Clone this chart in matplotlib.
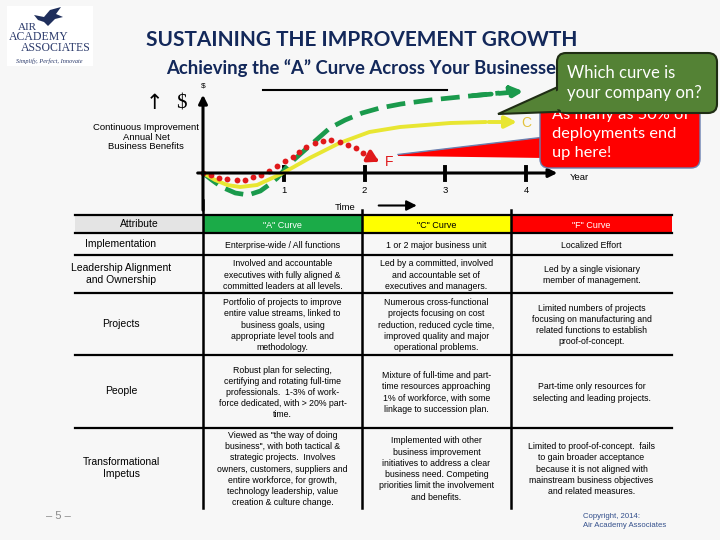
import matplotlib.pyplot as plt
from matplotlib.patches import FancyBboxPatch, Polygon, Rectangle

plt.rcParams['font.family'] = ['Liberation Sans', 'DejaVu Sans']

# curve values (year, annual net benefit)
a_years = [0, 0.11, 0.23, 0.40, 0.56, 0.71, 0.83, 0.92, 1.08, 1.36, 1.57, 1.76, 1.97, 2.19, 2.45, 2.81, 3.30, 3.67, 4.0]
a_values = [0, -0.7, -1.4, -2.0, -2.2, -1.8, -1.1, -0.5, 1.0, 3.0, 4.5, 5.3, 6.0, 6.5, 6.9, 7.3, 7.7, 8.0, 8.2]
c_years = [0, 0.15, 0.30, 0.46, 0.67, 0.83, 0.99, 1.32, 1.69, 2.06, 2.44, 3.06, 3.5, 3.92]
c_values = [0, -0.7, -1.2, -1.4, -1.2, -0.6, 0, 1.5, 3.0, 4.1, 4.6, 5.0, 5.1, 5.1]
f_years = [0, 0.10, 0.20, 0.30, 0.42, 0.52, 0.62, 0.72, 0.82, 0.91, 1.01, 1.11, 1.19, 1.28,
           1.39, 1.49, 1.59, 1.70, 1.80, 1.89, 1.98, 2.09]
f_values = [0, -0.2, -0.5, -0.6, -0.7, -0.7, -0.4, -0.2, 0.2, 0.7, 1.2, 1.6, 2.1, 2.6,
            3.0, 3.2, 3.3, 3.1, 2.8, 2.5, 2.0, 1.5]
year_ticks = [1, 2, 3, 4]

# comparison table
attributes = ['Implementation', 'Leadership Alignment\nand Ownership', 'Projects', 'People',
              'Transformational\nImpetus']
curve_headers = ['"A" Curve', '"C" Curve', '"F" Curve']
a_text = ['Enterprise-wide / All functions',
          'Involved and accountable\nexecutives with fully aligned &\ncommitted leaders at all levels.',
          'Portfolio of projects to improve\nentire value streams, linked to\nbusiness goals, using\nappropriate level tools and\nmethodology.',
          'Robust plan for selecting,\ncertifying and rotating full-time\nprofessionals.  1-3% of work-\nforce dedicated, with > 20% part-\ntime.',
          'Viewed as "the way of doing\nbusiness", with both tactical &\nstrategic projects.  Involves\nowners, customers, suppliers and\nentire workforce, for growth,\ntechnology leadership, value\ncreation & culture change.']
c_text = ['1 or 2 major business unit',
          'Led by a committed, involved\nand accountable set of\nexecutives and managers.',
          'Numerous cross-functional\nprojects focusing on cost\nreduction, reduced cycle time,\nimproved quality and major\noperational problems.',
          'Mixture of full-time and part-\ntime resources approaching\n1% of workforce, with some\nlinkage to succession plan.',
          'Implemented with other\nbusiness improvement\ninitiatives to address a clear\nbusiness need. Competing\npriorities limit the involvement\nand benefits.']
f_text = ['Localized Effort',
          'Led by a single visionary\nmember of management.',
          'Limited numbers of projects\nfocusing on manufacturing and\nrelated functions to establish\nproof-of-concept.',
          'Part-time only resources for\nselecting and leading projects.',
          'Limited to proof-of-concept.  fails\nto gain broader acceptance\nbecause it is not aligned with\nmainstream business objectives\nand related measures.']

NAVY = '#13285a'
fig = plt.figure(figsize=(7.2, 5.4), dpi=100)
fig.patch.set_facecolor('#f7f7f7')

# page layer in pixel units
pg = fig.add_axes([0, 0, 1, 1])
pg.set_xlim(0, 720)
pg.set_ylim(540, 0)
pg.axis('off')

# logo
pg.add_patch(Rectangle((7, 6), 86, 60, fc='white', ec='none'))
pg.add_patch(Polygon([(34, 15), (44, 17), (50, 10), (61, 7), (56, 14), (63, 17), (55, 19),
                      (48, 26), (44, 22), (38, 20)], fc='#1f2f5c', ec='none'))
pg.text(18, 27, 'AIR', family='Liberation Serif', fontsize=8, color='#2b3a6b', va='center')
pg.text(9, 37, 'ACADEMY', family='Liberation Serif', fontsize=8.5, color='#2b3a6b', va='center')
pg.text(21, 48, 'ASSOCIATES', family='Liberation Serif', fontsize=8.5, color='#2b3a6b', va='center')
pg.text(49, 61, 'Simplify, Perfect, Innovate', family='Liberation Serif', style='italic',
        fontsize=4.5, color='#2b3a6b', ha='center', va='center')

# titles
pg.text(362, 40, 'SUSTAINING THE IMPROVEMENT GROWTH', family='Lato', weight='bold',
        fontsize=15, color=NAVY, ha='center', va='center')
pg.text(166, 68, 'Achieving the \u201cA\u201d Curve Across Your Businesses', family='Lato',
        weight='bold', fontsize=13.3, color=NAVY, ha='left', va='center')

# y-axis caption
pg.text(154, 103, '\u2191', family='DejaVu Sans', fontsize=15, ha='center', va='center')
pg.text(181, 104, '$', family='Liberation Serif', fontsize=15, ha='center', va='center')
pg.text(146, 137, 'Continuous Improvement\nAnnual Net\nBusiness Benefits', fontsize=6.8,
        ha='center', va='center', linespacing=1.05)

# table
rows_y = [215, 233, 255, 293, 355, 428, 508]
cols_x = [75, 203, 362, 511, 672]
head_colors = ['#e4e4e4', '#1bab48', '#ffff00', '#ff0000']
for i, hc in enumerate(head_colors):
    pg.add_patch(Rectangle((cols_x[i], rows_y[0]), cols_x[i + 1] - cols_x[i], rows_y[1] - rows_y[0],
                           fc=hc, ec='none'))
for y in rows_y[:-1]:
    pg.plot([cols_x[0], cols_x[-1]], [y, y], color='black', lw=1.6)
for x in cols_x[2:4]:
    pg.plot([x, x], [210, rows_y[-1]], color='black', lw=1.8)
pg.plot([203, 203], [200, rows_y[-1]], color='black', lw=1.8)

pg.text(139, 224, 'Attribute', fontsize=7.5, ha='center', va='center')
head_txt = ['white', 'black', 'white']
for j, h in enumerate(curve_headers):
    pg.text((cols_x[j + 1] + cols_x[j + 2]) / 2, 225, h, fontsize=6.5, color=head_txt[j],
            ha='center', va='center')
for i, attr in enumerate(attributes):
    yc = (rows_y[i + 1] + rows_y[i + 2]) / 2
    pg.text(121, yc, attr, fontsize=7.5, ha='center', va='center', linespacing=1.3)
    for j, col in enumerate([a_text, c_text, f_text]):
        pg.text((cols_x[j + 1] + cols_x[j + 2]) / 2, yc + 1, col[i], fontsize=6.3,
                ha='center', va='center', linespacing=1.32)

pg.text(58, 516, '\u2013 5 \u2013', fontsize=8, color='#8a8a8a', ha='center', va='center')
pg.text(583, 521, 'Copyright, 2014:\nAir Academy Associates', fontsize=5.6, color='#34508c',
        ha='left', va='center', linespacing=1.5)

# chart layer in data units
ax = fig.add_axes([162.6 / 720, (540 - 213) / 540, 5.5 * 80.8 / 720, 140 / 540], zorder=1)
ax.set_xlim(-0.5, 5.0)
ax.set_ylim(-4, 10)
ax.axis('off')
ax.patch.set_alpha(0)

arrow = dict(arrowstyle='-|>,head_length=0.5,head_width=0.25', color='black', lw=2.2)
ax.annotate('', xy=(0, 8.1), xytext=(0, -4), arrowprops=arrow, annotation_clip=False)
ax.annotate('', xy=(4.42, 0), xytext=(-0.1, 0), arrowprops=arrow, annotation_clip=False)
ax.text(0, 8.7, '$', fontsize=6, ha='center', va='center')
ax.plot([0.74, 3.02], [8.3, 8.3], color='black', lw=1.5)
for t in year_ticks:
    ax.plot([t, t], [0.6, -0.7], color='black', lw=2.8)
    ax.text(t, -1.75, str(t), fontsize=6.8, ha='center', va='center')
ax.text(4.54, -0.5, 'Year', fontsize=6.8, ha='left', va='center')
ax.text(1.76, -3.4, 'Time', fontsize=6.8, ha='center', va='center')
ax.annotate('', xy=(2.68, -3.25), xytext=(2.14, -3.25), annotation_clip=False,
            arrowprops=dict(arrowstyle='-|>,head_length=0.6,head_width=0.3', color='black', lw=1.5))

GREEN, YELLOW, RED = '#1a9a4c', '#e8e632', '#e0191b'
ax.plot(a_years[:-1], a_values[:-1], color=GREEN, lw=3.4, ls=(0, (4, 1.8)))
ax.annotate('', xy=(a_years[-1], a_values[-1]), xytext=(a_years[-3], a_values[-3]),
            arrowprops=dict(arrowstyle='-|>,head_length=0.7,head_width=0.35', color=GREEN, lw=3.4,
                            linestyle=(0, (4, 1.8))))
ax.plot(c_years[:-1], c_values[:-1], color=YELLOW, lw=2.8, solid_capstyle='round')
ax.annotate('', xy=(c_years[-1], c_values[-1]), xytext=(c_years[-2], c_values[-2]),
            arrowprops=dict(arrowstyle='-|>,head_length=0.7,head_width=0.35', color=YELLOW, lw=2.8))
ax.plot(f_years, f_values, 'o', color=RED, ms=4.2, mec='none')
ax.annotate('', xy=(2.21, 1.0), xytext=(f_years[-1], f_values[-1]),
            arrowprops=dict(arrowstyle='-|>,head_length=0.6,head_width=0.35', color=RED, lw=3))
ax.text(4.0, 5.0, 'C', fontsize=10, color='#e3c23c', ha='center', va='center')
ax.text(2.3, 1.1, 'F', fontsize=10, color=RED, ha='center', va='center')

# callouts on top
top = fig.add_axes([0, 0, 1, 1], zorder=2)
top.set_xlim(0, 720)
top.set_ylim(540, 0)
top.axis('off')
top.patch.set_alpha(0)

top.add_patch(Polygon([(545, 137), (398, 154.5), (398, 156), (545, 158)], fc='#ff0000', ec='none',
                      zorder=1))
top.plot([398, 545], [154.5, 137], color='#6a7fb0', lw=1, zorder=1.1)
top.add_patch(FancyBboxPatch((540, 97), 160, 71, boxstyle='round,pad=0,rounding_size=9',
                             fc='#ff0000', ec='#6a7fb0', lw=1, zorder=1.2))
top.text(552, 134, 'As many as 50% of\ndeployments end\nup here!', family='Lato', fontsize=11.8,
         color='white', ha='left', va='center', linespacing=1.5, zorder=1.5)

GBOX = '#548235'
top.add_patch(Polygon([(560, 86), (498, 114), (580, 111)], fc=GBOX, ec='#1f2d14', lw=1.5, zorder=4))
top.add_patch(FancyBboxPatch((557, 53), 160, 60, boxstyle='round,pad=0,rounding_size=9',
                             fc=GBOX, ec='#1f2d14', lw=1.5, zorder=4.1))
top.add_patch(Polygon([(561, 89), (520, 109), (576, 109.5), (561, 112)], fc=GBOX, ec='none',
                      zorder=4.2))
top.text(567, 83, 'Which curve is\nyour company on?', family='Lato', fontsize=12,
         color='white', ha='left', va='center', linespacing=1.25, zorder=5)

fig.savefig('out.png', dpi=100, facecolor=fig.get_facecolor())
